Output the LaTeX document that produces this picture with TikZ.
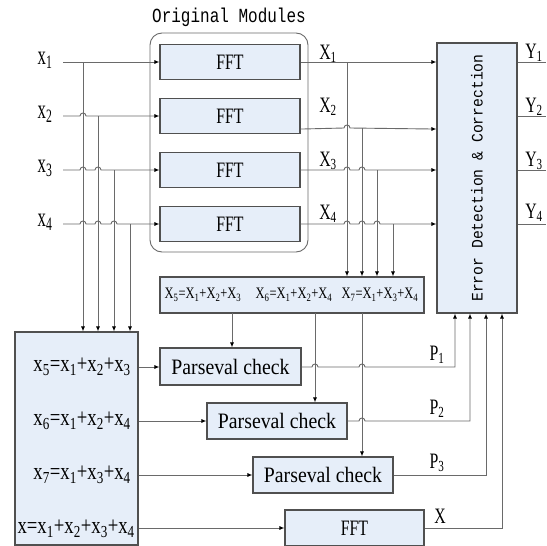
\documentclass[tikz,border=0pt]{standalone}
\usepackage{fontspec}
\setmainfont{Liberation Serif}
\newfontfamily\cndA[FakeStretch=0.72]{Liberation Serif}
\newfontfamily\cndL[FakeStretch=0.62]{Liberation Serif}
\newfontfamily\cndB[FakeStretch=0.78]{Liberation Serif}
\newfontfamily\cndC[FakeStretch=0.9]{Liberation Serif}
\newfontfamily\monoA[FakeStretch=0.8]{Liberation Mono}
\newfontfamily\monoB[FakeStretch=0.92]{Liberation Mono}
\usetikzlibrary{arrows.meta}
\definecolor{boxfill}{HTML}{E6EEF9}
\definecolor{boxline}{HTML}{505050}
\definecolor{wire}{HTML}{6A6A6A}
\newcommand\hp[2]{-- (#1-3,#2) .. controls (#1-3,#2-4) and (#1+3,#2-4) .. (#1+3,#2)}
\tikzset{
  blk/.style={draw=boxline, line width=1.1pt, fill=boxfill, inner sep=0pt},
  fftbox/.style={blk, minimum width=140pt, minimum height=35pt, font=\cndA\fontsize{22}{22}\selectfont},
  pcbox/.style={blk, minimum width=140pt, minimum height=36pt, font=\cndC\fontsize{22}{22}\selectfont},
  lab/.style={inner sep=0pt, font=\cndA\fontsize{22}{22}\selectfont},
  inlab/.style={inner sep=0pt, font=\cndL\fontsize{27}{27}\selectfont},
  eqn/.style={inner sep=0pt, font=\cndB\fontsize{24}{24}\selectfont},
  small/.style={inner sep=0pt, font=\cndB\fontsize{16}{16}\selectfont},
  wr/.style={draw=wire, line width=0.9pt},
  arr/.style={wr, -{Latex[length=5pt,width=4pt,color=black]}},
}
\begin{document}
\begin{tikzpicture}[x=1pt,y=-1pt]
\useasboundingbox (0,0) rectangle (546,546);
% container
\draw[draw=wire, line width=0.9pt, rounded corners=12pt] (150,33) rectangle (308,252);
\node[inner sep=0pt, font=\monoA\fontsize{20}{20}\selectfont] (om) at (229,17) {Original Modules};
% FFT boxes
\node[fftbox] (f1) at (230,62) {FFT};
\node[fftbox] (f2) at (230,116) {FFT};
\node[fftbox] (f3) at (230,170) {FFT};
\node[fftbox] (f4) at (230,224) {FFT};
% error box
\node[blk, minimum width=80pt, minimum height=270pt] (eb) at (477,178) {};
\node[inner sep=0pt, rotate=90, font=\monoB\fontsize{16}{16}\selectfont] (ebt) at (477,178) {Error Detection \& Correction};
% left box
\node[blk, minimum width=123pt, minimum height=213pt] (lb) at (76.5,438.5) {};
\node[eqn, anchor=east] (e5) at (131,367) {x\textsubscript{5}=x\textsubscript{1}+x\textsubscript{2}+x\textsubscript{3}};
\node[eqn, anchor=east] (e6) at (131,421) {x\textsubscript{6}=x\textsubscript{1}+x\textsubscript{2}+x\textsubscript{4}};
\node[eqn, anchor=east] (e7) at (131,475) {x\textsubscript{7}=x\textsubscript{1}+x\textsubscript{3}+x\textsubscript{4}};
\node[eqn, anchor=east] (ex) at (135,529) {x=x\textsubscript{1}+x\textsubscript{2}+x\textsubscript{3}+x\textsubscript{4}};
% X5 box
\node[blk, minimum width=264pt, minimum height=36pt] (xb) at (292,295) {};
\node[small] (t5) at (203,295) {X\textsubscript{5}=X\textsubscript{1}+X\textsubscript{2}+X\textsubscript{3}};
\node[small] (t6) at (294,295) {X\textsubscript{6}=X\textsubscript{1}+X\textsubscript{2}+X\textsubscript{4}};
\node[small] (t7) at (380,295) {X\textsubscript{7}=X\textsubscript{1}+X\textsubscript{3}+X\textsubscript{4}};
% Parseval and bottom FFT
\node[pcbox, minimum width=141pt, minimum height=37pt] (p1) at (230.5,366.5) {Parseval check};
\node[pcbox] (p2) at (277,421) {Parseval check};
\node[pcbox] (p3) at (323,475) {Parseval check};
\node[fftbox, minimum width=139pt, minimum height=36pt] (fb) at (354.5,528) {FFT};
% input labels
\node[inlab] (x1) at (45,60) {x\textsubscript{1}};
\node[inlab] (x2) at (45,114) {x\textsubscript{2}};
\node[inlab] (x3) at (45,168) {x\textsubscript{3}};
\node[inlab] (x4) at (45,222) {x\textsubscript{4}};
\coordinate (i1) at (63,62);
\coordinate (i2) at (63,116);
\coordinate (i3) at (63,170);
\coordinate (i4) at (63,224);
\coordinate (j1) at (83,62);
\coordinate (j2) at (98,116);
\coordinate (j3) at (114,170);
\coordinate (j4) at (130,224);
% input wires
\draw[arr] (i1) -- (f1.west);
\draw[arr] (i2) \hp{83}{116} -- (f2.west);
\draw[arr] (i3) \hp{83}{170} \hp{98}{170} -- (f3.west);
\draw[arr] (i4) \hp{83}{224} \hp{98}{224} \hp{114}{224} -- (f4.west);
\foreach \j in {j1,j2,j3,j4} \draw[arr] (\j) -- (\j |- lb.north);
% output labels
\node[lab] (X1) at (328,54) {X\textsubscript{1}};
\node[lab] (X2) at (328,107) {X\textsubscript{2}};
\node[lab] (X3) at (328,161) {X\textsubscript{3}};
\node[lab] (X4) at (328,214) {X\textsubscript{4}};
\coordinate (o2) at ([yshift=5pt]f2.south east);
\coordinate (k1) at (347,62);
\coordinate (k2) at (362,128);
\coordinate (k3) at (377,170);
\coordinate (k4) at (393,224);
\draw[arr] (f1.east) -- (f1.east -| eb.west);
\draw[arr] (o2) \hp{347}{128} -- (o2 -| eb.west);
\draw[arr] (f3.east) \hp{347}{170} \hp{362}{170} -- (f3.east -| eb.west);
\draw[arr] (f4.east) \hp{347}{224} \hp{362}{224} \hp{377}{224} -- (f4.east -| eb.west);
\foreach \k in {k1,k2,k3,k4} \draw[arr] (\k) -- (\k |- xb.north);
% Y outputs
\foreach \yy/\n/\ly in {62/1/53,116/2/107,170/3/161,224/4/213}{
  \coordinate (y\n) at (546,\yy);
  \draw[wr] (eb.east |- y\n) -- (y\n);
  \node[lab] (Y\n) at (534,\ly) {Y\textsubscript{\n}};
}
% X5 box to Parseval
\coordinate (q1) at (232,313);
\coordinate (q2) at (315,313);
\coordinate (q3) at (362,313);
\draw[arr] (q1) -- (q1 |- p1.north);
\draw[arr] (q2) -- (q2 |- p2.north);
\draw[arr] (q3) -- (q3 |- p3.north);
% left box outputs
\draw[arr] (lb.east |- e5) -- (p1.west |- e5);
\draw[arr] (lb.east |- e6) -- (p2.west);
\draw[arr] (lb.east |- e7) -- (p3.west);
\draw[arr] (lb.east |- fb) -- (fb.west);
% P lines
\coordinate (r1) at (455,367);
\coordinate (r2) at (470,421);
\coordinate (r3) at (486,475);
\coordinate (r4) at (502,528);
\draw[arr] (p1.east |- r1) \hp{315}{367} \hp{362}{367} -- (r1) -- (r1 |- eb.south);
\draw[arr] (p2.east) \hp{362}{421} -- (r2) -- (r2 |- eb.south);
\draw[arr] (p3.east) -- (r3) -- (r3 |- eb.south);
\draw[arr] (fb.east) -- (r4) -- (r4 |- eb.south);
\node[lab] (P1) at (437,355) {P\textsubscript{1}};
\node[lab] (P2) at (437,409) {P\textsubscript{2}};
\node[lab] (P3) at (437,463) {P\textsubscript{3}};
\node[lab] (XX) at (440,516) {X};
\end{tikzpicture}
\end{document}
